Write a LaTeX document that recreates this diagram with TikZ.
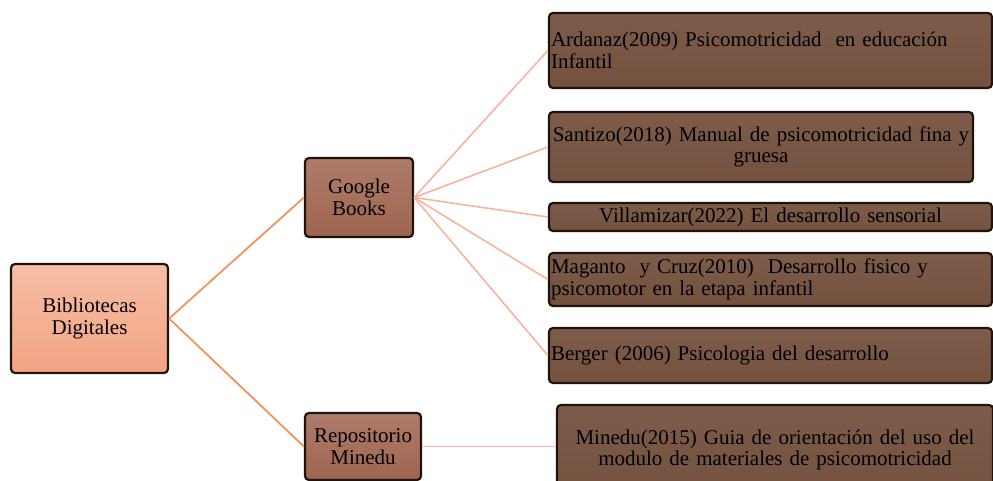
\documentclass[tikz,border=0pt]{standalone}
\usepackage{fontspec}
\setmainfont{Liberation Serif}
\definecolor{peachtop}{HTML}{F7BEA6}
\definecolor{peachbot}{HTML}{F3A383}
\definecolor{bA}{HTML}{AE7C6A}
\definecolor{bB}{HTML}{9E6550}
\definecolor{cA}{HTML}{7D5C4C}
\definecolor{cB}{HTML}{74513F}
\definecolor{boxedge}{HTML}{1E130D}
\definecolor{linkA}{HTML}{F0935F}
\definecolor{linkB}{HTML}{F6B59C}
\begin{document}
\begin{tikzpicture}[x=1pt,y=-1pt,
  base/.style={rounded corners=4pt, draw=boxedge, line width=2.2pt, inner xsep=2pt, inner ysep=0pt, font=\fontsize{21}{21.5}\selectfont, text=black},
  peach/.style={base, top color=peachtop, bottom color=peachbot},
  brownA/.style={base, top color=bA, bottom color=bB},
  brownB/.style={base, top color=cA, bottom color=cB},
  c1/.style={draw=linkA, line width=1.8pt},
  c2/.style={draw=linkB, line width=1.6pt}]
\useasboundingbox (0,0) rectangle (993,481);
\fill[white] (0,0) rectangle (993,481);
\node[peach, minimum width=157pt, minimum height=109pt, align=center] (bib) at (89.5,318.5) {Bibliotecas\\Digitales};
\node[brownA, minimum width=108pt, minimum height=79pt, align=center] (gb) at (359,197.5) {Google\\Books};
\node[brownA, minimum width=116pt, minimum height=67pt, align=center] (rm) at (363,446.5) {Repositorio\\Minedu};
\node[brownB, minimum width=443pt, minimum height=75pt, text width=439pt, align=left] (r1) at (770.5,50.5) {Ardanaz(2009) Psicomotricidad\ \ en educación\\Infantil};
\node[brownB, minimum width=424pt, minimum height=70pt, text width=420pt, align=center] (r2) at (761,147) {Santizo(2018) Manual de psicomotricidad fina y\\gruesa};
\node[brownB, minimum width=443pt, minimum height=28pt, text width=439pt, align=center] (r3) at (770.5,217) {Villamizar(2022) El desarrollo sensorial};
\node[brownB, minimum width=443pt, minimum height=53pt, text width=439pt, align=left] (r4) at (770.5,279.5) {Maganto\ \ y Cruz(2010)\ \ Desarrollo fisico y\\psicomotor en la etapa infantil};
\node[brownB, minimum width=443pt, minimum height=55pt, text width=439pt, align=left] (r5) at (770.5,355.5) {Berger (2006) Psicologia del desarrollo};
\node[brownB, minimum width=436pt, minimum height=90pt, text width=432pt, align=center] (r6) at (775,450) {Minedu(2015) Guia de orientación del uso del\\modulo de materiales de psicomotricidad};
\draw[c1] (bib.east) -- (gb.west);
\draw[c1] (bib.east) -- (rm.west);
\draw[c2] (gb.east) -- (r1.west);
\draw[c2] (gb.east) -- (r2.west);
\draw[c2] (gb.east) -- (r3.west);
\draw[c2] (gb.east) -- (r4.west);
\draw[c2] (gb.east) -- (r5.west);
\draw[c2] (rm.east) -- (rm.east -| r6.west);
\end{tikzpicture}
\end{document}
